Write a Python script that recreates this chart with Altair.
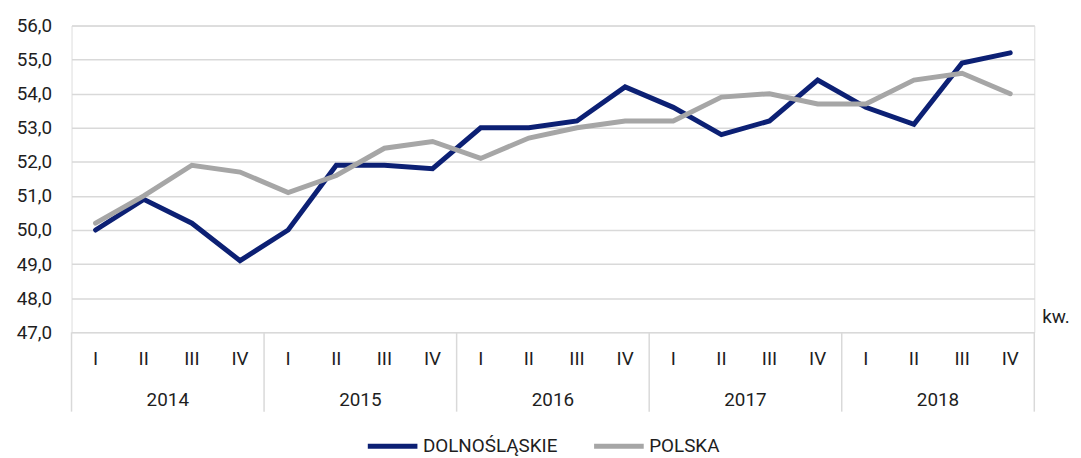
import altair as alt
import pandas as pd

quarters = ["I", "II", "III", "IV"] * 5
years = ["2014"] * 4 + ["2015"] * 4 + ["2016"] * 4 + ["2017"] * 4 + ["2018"] * 4
series_names = ["DOLNOŚLĄSKIE", "POLSKA"]
dolnoslaskie = [50.0, 50.9, 50.2, 49.1, 50.0, 51.9, 51.9, 51.8, 53.0, 53.0, 53.2, 54.2,
                53.6, 52.8, 53.2, 54.4, 53.6, 53.1, 54.9, 55.2]
polska = [50.2, 51.0, 51.9, 51.7, 51.1, 51.6, 52.4, 52.6, 52.1, 52.7, 53.0, 53.2,
          53.2, 53.9, 54.0, 53.7, 53.7, 54.4, 54.6, 54.0]
y_ticks = [47, 48, 49, 50, 51, 52, 53, 54, 55, 56]
unit_label = "kw."

FONT = "Roboto"
TXT = "#1e1e1e"
GRID = "#d9d9d9"
FS = 19
W, H = 970, 309

rows = []
for i, (q, y) in enumerate(zip(quarters, years)):
    rows.append({"idx": i, "quarter": q, "year": y, "series": series_names[0], "value": dolnoslaskie[i]})
    rows.append({"idx": i, "quarter": q, "year": y, "series": series_names[1], "value": polska[i]})
df = pd.DataFrame(rows)

cats = pd.DataFrame({"idx": list(range(len(quarters))), "quarter": quarters, "year": years})
yr = cats.groupby("year").idx.agg(["min", "max"]).reset_index()
yr["mid"] = (yr["min"] + yr["max"]) / 2
bounds = sorted(set(list(yr["min"] - 0.5) + list(yr["max"] + 0.5)))
sep = pd.DataFrame({"b": bounds})

xscale = alt.Scale(domain=[-0.5, len(quarters) - 0.5], nice=False, zero=False)

lines = alt.Chart(df).mark_line(strokeWidth=5, strokeCap="round", strokeJoin="miter").encode(
    x=alt.X("idx:Q", scale=xscale, axis=None),
    y=alt.Y("value:Q", scale=alt.Scale(domain=[47, 56], nice=False, zero=False),
            axis=alt.Axis(values=y_ticks, labelExpr="replace(format(datum.value, '.1f'), '.', ',')",
                          grid=True, gridColor=GRID, gridWidth=1.5, domain=False, ticks=False,
                          title=None, labelFontSize=FS, labelPadding=20, labelColor=TXT,
                          labelFont=FONT)),
    color=alt.Color("series:N", scale=alt.Scale(domain=series_names, range=["#0c2074", "#a6a6a6"]),
                    legend=alt.Legend(orient="none", legendX=296, legendY=396, direction="horizontal",
                                      title=None, symbolType="stroke", symbolSize=2500,
                                      symbolStrokeWidth=5, labelFontSize=FS, labelFont=FONT,
                                      labelColor=TXT, columnPadding=26, labelOffset=3)),
)

seps = alt.Chart(sep).mark_rule(color=GRID, strokeWidth=1.5).encode(
    x=alt.X("b:Q", scale=xscale, axis=None), y=alt.value(H), y2=alt.value(389)
)

qtext = alt.Chart(cats).mark_text(fontSize=FS, font=FONT, color=TXT).encode(
    x=alt.X("idx:Q", scale=xscale, axis=None), y=alt.value(336), text="quarter:N"
)

ytext = alt.Chart(yr).mark_text(fontSize=FS, font=FONT, color=TXT).encode(
    x=alt.X("mid:Q", scale=xscale, axis=None), y=alt.value(377), text="year:N"
)

kw = alt.Chart(pd.DataFrame({"t": [unit_label]})).mark_text(
    fontSize=FS, font=FONT, color=TXT, align="left").encode(
    x=alt.value(W + 8), y=alt.value(294), text="t:N"
)

chart = alt.layer(seps, lines, qtext, ytext, kw).properties(
    width=W, height=H,
    autosize=alt.AutoSizeParams(type="none"),
    padding={"left": 64, "top": 16, "right": 39, "bottom": 125},
).configure_view(stroke=None).configure(font=FONT)

chart.save("out.html", embed_options={"renderer": "svg", "actions": False})
